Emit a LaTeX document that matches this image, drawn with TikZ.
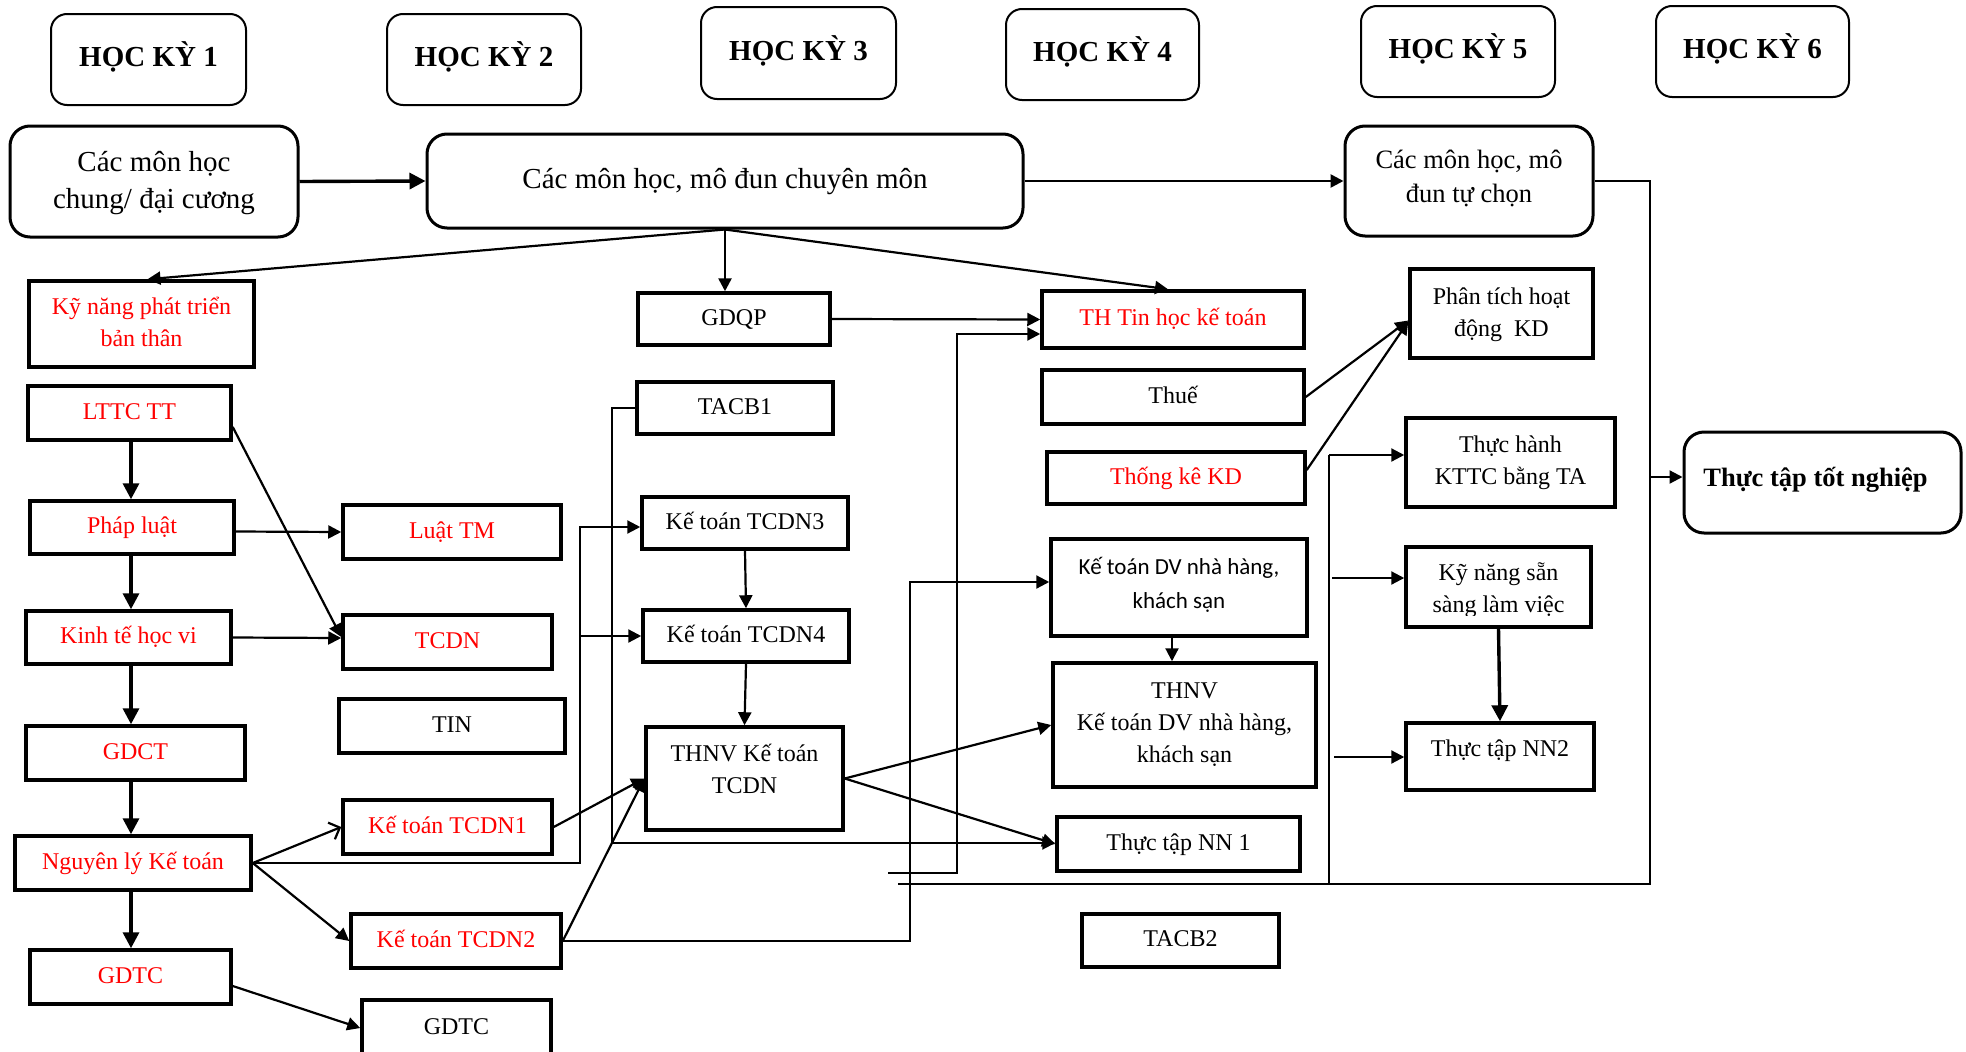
\documentclass[tikz,border=0pt]{standalone}
\usepackage{fontspec}
\setmainfont{Liberation Serif}
\newfontfamily\calibrifont{Carlito}
\usetikzlibrary{arrows.meta,fit}
\begin{document}
\begin{tikzpicture}[x=1pt,y=-1pt,
  lbl/.style={inner sep=0pt, outer sep=0pt, align=center, anchor=center,
    execute at begin node=\strut, execute at end node=\strut},
  small/.style={lbl, font=\fontsize{24}{32}\selectfont},
  redtxt/.style={small, text=red},
  bigtxt/.style={lbl, font=\fontsize{29}{37}\selectfont},
  headtxt/.style={lbl, font=\fontsize{29}{37}\selectfont\bfseries},
  box/.style={draw, line width=3.5pt, fill=white, inner sep=0pt},
  term/.style={draw, line width=2pt, rounded corners=16pt, fill=white, inner sep=0pt},
  grp/.style={draw, line width=3pt, rounded corners=20pt, fill=white, inner sep=0pt},
  link/.style={line width=2.2pt, -{Triangle[length=13pt,width=13pt]}},
  heavylink/.style={line width=3.4pt, -{Triangle[length=16pt,width=16pt]}},
  openlink/.style={line width=2.2pt, -{Straight Barb[length=9pt,width=18pt]}},
  busline/.style={line width=1.4pt},
  midline/.style={line width=2pt},
]
\fill[white] (0,0) rectangle (1966,1052);
\useasboundingbox (0,0) rectangle (1966,1052);

% semester headings
\node[term, fit={(51,14)(246,105)}] (hk1) {};
\node[headtxt] (hk1-t) at (hk1) {HỌC KỲ 1};
\node[term, fit={(387,14)(581,105)}] (hk2) {};
\node[headtxt] (hk2-t) at (hk2) {HỌC KỲ 2};
\node[term, fit={(701,7)(896,99)}] (hk3) {};
\node[headtxt] (hk3-t) at (hk3) {HỌC KỲ 3};
\node[term, fit={(1006,9)(1199,100)}] (hk4) {};
\node[headtxt] (hk4-t) at (hk4) {HỌC KỲ 4};
\node[term, fit={(1361,6)(1555,97)}] (hk5) {};
\node[headtxt] (hk5-t) at (hk5) {HỌC KỲ 5};
\node[term, fit={(1656,6)(1849,97)}] (hk6) {};
\node[headtxt] (hk6-t) at (hk6) {HỌC KỲ 6};

% course groups
\node[grp, fit={(10,126)(298,237)}] (chung) {};
\node[bigtxt, yshift=-4pt] (chung-t) at (chung) {Các môn học\\chung/ đại cương};
\node[grp, fit={(427,134)(1023,228)}] (cm) {};
\node[bigtxt] (cm-t) at (cm) {Các môn học, mô đun chuyên môn};
\node[grp, fit={(1345,126)(1593,236)}] (tc) {};
\node[lbl, font=\fontsize{26.5}{34}\selectfont] (tc-t) at (tc)
  {Các môn học, mô\\đun tự chọn};
\node[grp, fit={(1684,432)(1961,533)}] (tttn) {};
\node[lbl, font=\fontsize{26.5}{34}\selectfont\bfseries, yshift=3pt, xshift=-7pt]
  (tttn-t) at (tttn) {Thực tập tốt nghiệp};

% first column
\node[box, fit={(29,281)(254,367)}] (kn) {};
\node[redtxt, yshift=-3pt] (kn-t) at (kn) {Kỹ năng phát triển\\bản thân};
\node[box, fit={(28,386)(231,440)}] (lttc) {};
\node[redtxt] (lttc-t) at (lttc) {LTTC TT};
\node[box, fit={(30,501)(234,554)}] (pl) {};
\node[redtxt] (pl-t) at (pl) {Pháp luật};
\node[box, fit={(26,611)(231,664)}] (kth) {};
\node[redtxt] (kth-t) at (kth) {Kinh tế học vi};
\node[box, fit={(26,726)(245,780)}] (gdct) {};
\node[redtxt] (gdct-t) at (gdct) {GDCT};
\node[box, fit={(15,836)(251,890)}] (nlkt) {};
\node[redtxt] (nlkt-t) at (nlkt) {Nguyên lý Kế toán};
\node[box, fit={(30,950)(231,1004)}] (gdtc1) {};
\node[redtxt] (gdtc1-t) at (gdtc1) {GDTC};

% second column
\node[box, fit={(343,505)(561,559)}] (ltm) {};
\node[redtxt] (ltm-t) at (ltm) {Luật TM};
\node[box, fit={(343,615)(552,669)}] (tcdn) {};
\node[redtxt] (tcdn-t) at (tcdn) {TCDN};
\node[box, fit={(339,699)(565,753)}] (tin) {};
\node[small] (tin-t) at (tin) {TIN};
\node[box, fit={(343,800)(552,854)}] (kt1) {};
\node[redtxt] (kt1-t) at (kt1) {Kế toán TCDN1};
\node[box, fit={(351,914)(561,968)}] (kt2) {};
\node[redtxt] (kt2-t) at (kt2) {Kế toán TCDN2};
\node[box, fit={(362,1000)(551,1056)}] (gdtc2) {};
\node[small] (gdtc2-t) at (gdtc2) {GDTC};

% third column
\node[box, fit={(638,293)(830,345)}] (gdqp) {};
\node[small] (gdqp-t) at (gdqp) {GDQP};
\node[box, fit={(637,382)(833,434)}] (tacb1) {};
\node[small] (tacb1-t) at (tacb1) {TACB1};
\node[box, fit={(642,497)(848,549)}] (kt3) {};
\node[small] (kt3-t) at (kt3) {Kế toán TCDN3};
\node[box, fit={(643,610)(849,662)}] (kt4) {};
\node[small] (kt4-t) at (kt4) {Kế toán TCDN4};
\node[box, fit={(646,727)(843,830)}] (thnv) {};
\node[small, yshift=5pt] (thnv-t) at (thnv) {THNV Kế toán\\TCDN};

% fourth column
\node[box, fit={(1042,291)(1304,348)}] (thtin) {};
\node[redtxt] (thtin-t) at (thtin) {TH Tin học kế toán};
\node[box, fit={(1042,370)(1304,424)}] (thue) {};
\node[small] (thue-t) at (thue) {Thuế};
\node[box, fit={(1047,452)(1305,504)}] (tk) {};
\node[redtxt] (tk-t) at (tk) {Thống kê KD};
\node[box, fit={(1051,539)(1307,636)}] (ktdv) {};
\node[lbl, font=\fontsize{23}{34}\selectfont\calibrifont] (ktdv-t) at (ktdv)
  {Kế toán DV nhà hàng,\\khách sạn};
\node[box, fit={(1053,663)(1316,787)}] (thnvdv) {};
\node[small, yshift=-2pt] (thnvdv-t) at (thnvdv) {THNV\\Kế toán DV nhà hàng,\\khách sạn};
\node[box, fit={(1057,817)(1300,871)}] (nn1) {};
\node[small] (nn1-t) at (nn1) {Thực tập NN 1};
\node[box, fit={(1082,914)(1279,967)}] (tacb2) {};
\node[small] (tacb2-t) at (tacb2) {TACB2};

% fifth column
\node[box, fit={(1410,269)(1593,358)}] (pt) {};
\node[small, yshift=-3pt] (pt-t) at (pt) {Phân tích hoạt\\động\ \ KD};
\node[box, fit={(1406,418)(1615,507)}] (tht) {};
\node[small, yshift=-2pt] (tht-t) at (tht) {Thực hành\\KTTC bằng TA};
\node[box, fit={(1406,547)(1591,627)}] (kns) {};
\begin{scope}
  \clip (1406,547) rectangle (1591,615.5);
  \node[small, yshift=-5pt] (kns-t) at (kns) {Kỹ năng sẵn\\sàng làm việc};
\end{scope}
\node[box, fit={(1406,723)(1594,790)}] (nn2) {};
\node[small, yshift=6pt] (nn2-t) at (nn2) {Thực tập NN2};

% first column chain
\coordinate (colx) at (131,0);
\draw[heavylink] (lttc.south -| colx) -- (pl.north -| colx);
\draw[heavylink] (pl.south -| colx) -- (kth.north -| colx);
\draw[heavylink] (kth.south -| colx) -- (gdct.north -| colx);
\draw[heavylink] (gdct.south -| colx) -- (nlkt.north -| colx);
\draw[heavylink] (nlkt.south -| colx) -- (gdtc1.north -| colx);

% group links
\draw[heavylink] (chung.east) -- (cm.west);
\draw[link, line width=2.6pt] (cm.east) -- (tc.west);
\draw[link] (cm.south) -- ([xshift=6pt]kn.north);
\draw[link, line width=2.6pt] (cm.south) -- (cm.south |- gdqp.north);
\draw[link] (cm.south) -- ([xshift=-5pt]thtin.north);

% links out of the first column
\draw[link] ([yshift=-14pt]lttc.east) -- ([yshift=5pt]tcdn.west);
\draw[link] ([yshift=-4pt]pl.east) -- (ltm.west);
\draw[link] (kth.east) -- ([yshift=4pt]tcdn.west);
\draw[openlink] (nlkt.east) -- (kt1.west);
\draw[link] (nlkt.east) -- (kt2.west);
\draw[link] (nlkt.east) -| (580,527) -- (kt3.west |- 580,527);
\coordinate (fork) at (580,636);
\draw[link] (fork) -- (kt4.west |- fork);
\draw[link] ([yshift=-9pt]gdtc1.east) -- (gdtc2.west);

% third column links
\draw[link] (gdqp.east) -- (thtin.west);
\draw[link, line width=2pt] (tacb1.west) -| (612,843) -- (nn1.west |- 612,843);
\draw[link] (kt3.south) -- (kt4.north);
\draw[link] (kt4.south) -- (thnv.north);
\draw[link] (kt1.east) -- (thnv.west);
\draw[link] (kt2.east) -- (thnv.west);
\draw[link] (kt2.east) -| (910,582) -- (ktdv.west |- 910,582);
\draw[link] (thnv.east) -- (thnvdv.west);
\draw[link] (thnv.east) -- (nn1.west);
\coordinate (loose) at (888,873);
\draw[link] (loose) -- (957,873) -- (957,334) -- (thtin.west |- 957,334);

% fourth column links
\draw[link] ([xshift=-7pt]ktdv.south) -- ([xshift=-7pt]ktdv.south |- thnvdv.north);
\draw[link] (thue.east) -- ([yshift=-7pt]pt.west);
\draw[link] ([yshift=8pt]tk.east) -- ([yshift=-8pt]pt.west);

% fifth column links
\draw[heavylink] (kns.south) -- (nn2.north);
\coordinate (busL) at (1329,455);
\draw[midline] (busL) -- (1329,884);
\draw[link] (busL) -- (tht.west |- busL);
\coordinate (jk) at (1332,578);
\draw[link] (jk) -- (kns.west |- jk);
\coordinate (jn) at (1334,757);
\draw[link] (jn) -- (nn2.west |- jn);

% elective bus into the graduation internship
\draw[busline] (tc.east) -| (1650,884) -- (898,884);
\coordinate (busR) at (1650,477);
\draw[link] (busR) -- (tttn.west |- busR);
\end{tikzpicture}
\end{document}
